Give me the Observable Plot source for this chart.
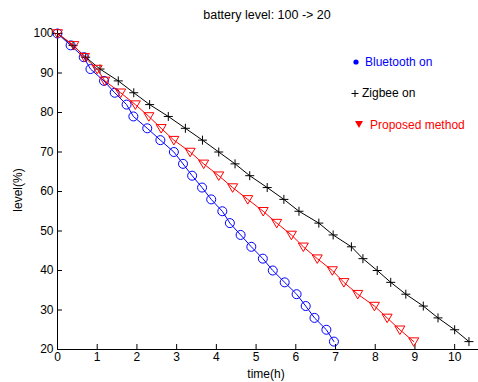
<!DOCTYPE html>
<html><head><meta charset="utf-8">
<script src="https://cdn.jsdelivr.net/npm/d3@7"></script>
<script src="https://cdn.jsdelivr.net/npm/@observablehq/plot@0.6"></script>
<style>
body{margin:0;background:#fff;}
#wrap{position:relative;width:478px;height:382px;font-family:"Liberation Sans",Arial,sans-serif;color:#000;}
.t{position:absolute;white-space:nowrap;font-size:12px;line-height:14px;}
</style></head><body><div id="wrap"></div>
<script>
// Bluetooth on
const btTime=[0,0.33,0.66,0.83,1.17,1.44,1.74,1.91,2.26,2.59,2.93,3.16,3.39,3.64,3.87,4.15,4.34,4.61,4.88,5.17,5.42,5.72,6.02,6.25,6.47,6.77,6.96];
const btLevel=[100,97,94,91,88,85,82,79,76,73,70,67,64,61,58,55,52,49,46,43,40,37,34,31,28,25,22];
// Zigbee on
const zbTime=[0,0.39,0.71,1.07,1.53,1.92,2.32,2.79,3.22,3.65,4.06,4.47,4.84,5.28,5.70,6.08,6.58,6.94,7.40,7.69,8.05,8.39,8.77,9.21,9.58,10.0,10.36];
const zbLevel=[100,97,94,91,88,85,82,79,76,73,70,67,64,61,58,55,52,49,46,43,40,37,34,31,28,25,22];
// Proposed method
const pmTime=[0,0.41,0.68,1.0,1.19,1.59,1.96,2.30,2.61,2.93,3.34,3.68,4.06,4.41,4.79,5.18,5.52,5.89,6.19,6.54,6.92,7.21,7.56,7.98,8.30,8.62,8.97];
const pmLevel=[100,97,94,91,88,85,82,79,76,73,70,67,64,61,58,55,52,49,46,43,40,37,34,31,28,25,22];

const xTicks=[0,1,2,3,4,5,6,7,8,9,10];
const yTicks=[20,30,40,50,60,70,80,90,100];
const title="battery level: 100 -> 20";
const xLabel="time(h)";
const yLabel="level(%)";
const seriesNames=["Bluetooth on","Zigbee on","Proposed method"];
const seriesColors=["#0000ff","#000000","#ff0000"];

const mk=(t,l)=>t.map((x,i)=>({time:x,level:l[i]}));
const bt=mk(btTime,btLevel), zb=mk(zbTime,zbLevel), pm=mk(pmTime,pmLevel);

const thinPlus={draw(ctx,size){const r=Math.sqrt(size/Math.PI);ctx.moveTo(-r,0);ctx.lineTo(r,0);ctx.moveTo(0,-r);ctx.lineTo(0,r);}};
const triDown={draw(ctx,size){const r=Math.sqrt(size/Math.PI);ctx.moveTo(-r,-r*0.75);ctx.lineTo(r,-r*0.75);ctx.lineTo(0,r*0.95);ctx.closePath();}};

const chart=Plot.plot({
  width:478,height:382,
  marginLeft:57,marginRight:0,marginTop:33,marginBottom:33,
  style:{fontFamily:"'Liberation Sans',Arial,sans-serif",fontSize:"12px",background:"#fff",color:"#000"},
  x:{domain:[0,10.6]},
  y:{domain:[20,100]},
  marks:[
    Plot.axisX({ticks:xTicks,tickSize:-5,tickPadding:8,label:null,tickFormat:d=>d}),
    Plot.axisY({ticks:yTicks,tickSize:-5,tickPadding:9,label:null,tickFormat:d=>d}),
    Plot.ruleY([20],{stroke:"#000"}),
    Plot.ruleX([0],{stroke:"#000"}),
    Plot.line(bt,{x:"time",y:"level",stroke:seriesColors[0],strokeWidth:1}),
    Plot.dot(bt,{x:"time",y:"level",stroke:seriesColors[0],r:4.5,strokeWidth:1}),
    Plot.line(zb,{x:"time",y:"level",stroke:seriesColors[1],strokeWidth:1}),
    Plot.dot(zb,{x:"time",y:"level",stroke:seriesColors[1],symbol:thinPlus,r:4.5,strokeWidth:1}),
    Plot.line(pm,{x:"time",y:"level",stroke:seriesColors[2],strokeWidth:1}),
    Plot.dot(pm,{x:"time",y:"level",stroke:seriesColors[2],symbol:triDown,r:5,strokeWidth:1})
  ]
});
const wrap=document.getElementById("wrap");
wrap.appendChild(chart);
function addText(txt,left,cy,opts={}){
  const d=document.createElement("div");d.className="t";d.textContent=txt;
  d.style.left=left+"px";d.style.top=(cy-7)+"px";
  if(opts.color)d.style.color=opts.color;
  if(opts.size)d.style.fontSize=opts.size+"px";
  if(opts.center){d.style.transform="translateX(-50%)";}
  if(opts.rotate){d.style.transform="translate(-50%,0) rotate(-90deg)";}
  wrap.appendChild(d);return d;
}
addText(title,267,15,{center:true,size:12.5});
addText(xLabel,266,374,{center:true});
addText(yLabel,18,190,{rotate:true});
// legend
const ns="http://www.w3.org/2000/svg";
const lg=document.createElementNS(ns,"svg");
lg.setAttribute("width",478);lg.setAttribute("height",382);
lg.style.position="absolute";lg.style.left="0";lg.style.top="0";lg.style.pointerEvents="none";
lg.innerHTML=`<circle cx="356" cy="62" r="2.6" fill="${seriesColors[0]}"/>
<path d="M351.5,93.5H358.5M355,90V97" stroke="${seriesColors[1]}" stroke-width="1"/>
<path d="M355,121L363,121L359,128Z" fill="${seriesColors[2]}"/>`;
wrap.appendChild(lg);
addText(seriesNames[0],365,62,{color:seriesColors[0]});
addText(seriesNames[1],362,93,{color:seriesColors[1]});
addText(seriesNames[2],370,125,{color:seriesColors[2]});
</script></body></html>
